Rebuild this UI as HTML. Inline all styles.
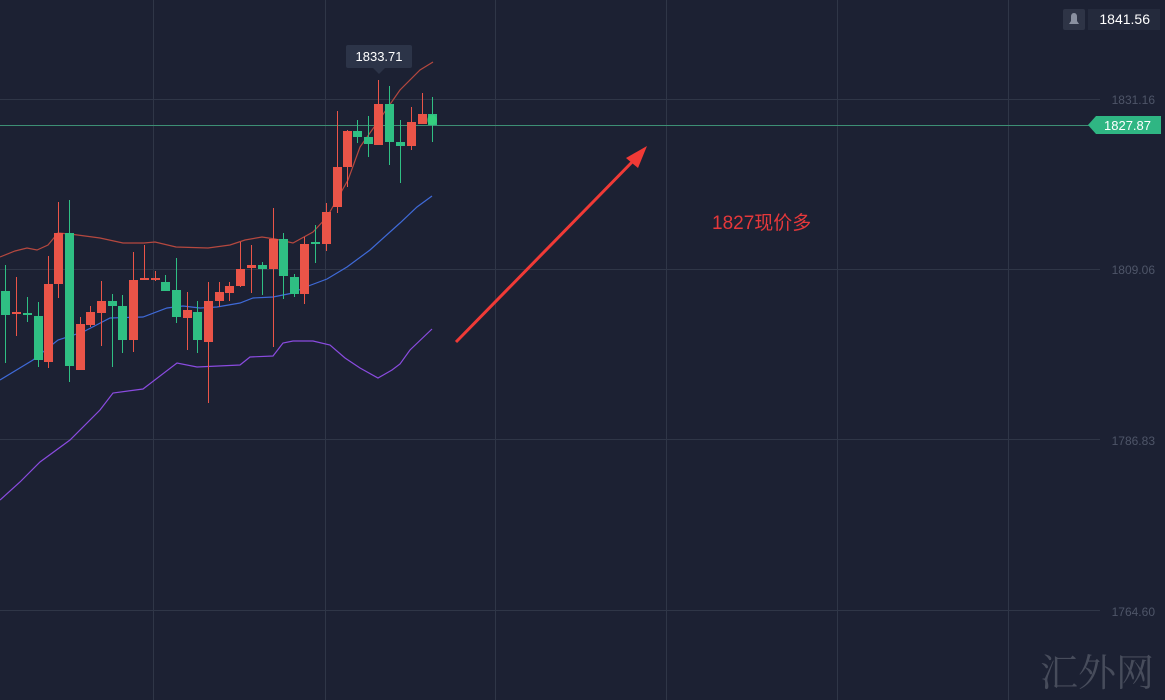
<!DOCTYPE html>
<html><head><meta charset="utf-8"><style>
html,body{margin:0;padding:0;background:#1c2133;}
svg{display:block;}
</style></head><body>
<svg id="s" width="1165" height="700" xmlns="http://www.w3.org/2000/svg">
<rect width="1165" height="700" fill="#1c2133"/>
<g stroke="#2f3647" stroke-width="1">
<line x1="153.5" y1="0" x2="153.5" y2="700"/>
<line x1="325.5" y1="0" x2="325.5" y2="700"/>
<line x1="495.5" y1="0" x2="495.5" y2="700"/>
<line x1="666.5" y1="0" x2="666.5" y2="700"/>
<line x1="837.5" y1="0" x2="837.5" y2="700"/>
<line x1="1008.5" y1="0" x2="1008.5" y2="700"/>
<line x1="0" y1="99.5" x2="1100" y2="99.5"/>
<line x1="0" y1="269.5" x2="1100" y2="269.5"/>
<line x1="0" y1="439.5" x2="1100" y2="439.5"/>
<line x1="0" y1="610.5" x2="1100" y2="610.5"/>
</g>
<g font-family="Liberation Sans, sans-serif" font-size="12" fill="#4e5568" text-anchor="end">
<text x="1155" y="104">1831.16</text>
<text x="1155" y="274">1809.06</text>
<text x="1155" y="445">1786.83</text>
<text x="1155" y="616">1764.60</text>
</g>
<line x1="0" y1="125.5" x2="1090" y2="125.5" stroke="#3d8f74" stroke-width="1"/>
<path d="M1088,125 L1096,116 L1161,116 L1161,134 L1096,134 Z" fill="#2fb683"/>
<text x="1151" y="130" font-family="Liberation Sans, sans-serif" font-size="13" fill="#fff" text-anchor="end">1827.87</text>
<rect x="1063" y="9" width="22" height="21" rx="2" fill="#2e3446"/>
<path d="M1069,24 L1079,24 L1077,21 L1077,17 Q1077,13 1074,13 Q1071,13 1071,17 L1071,21 Z" fill="#8a90a0"/>
<rect x="1088" y="9" width="72" height="21" fill="#242a3c"/>
<text x="1150" y="24" font-family="Liberation Sans, sans-serif" font-size="14" fill="#fff" text-anchor="end">1841.56</text>
<rect x="346" y="45" width="66" height="23" rx="2" fill="#2c3448"/>
<path d="M373,68 L379,74 L385,68 Z" fill="#2c3448"/>
<text x="379" y="61" font-family="Liberation Sans, sans-serif" font-size="13" fill="#fff" text-anchor="middle">1833.71</text>
<polyline fill="none" stroke="#b5483f" stroke-width="1.2" points="0,257 15,251 27,248 37,250 48,245 58,233 70,234 100,238 123,243 144,243 155,242 176,247 208,248 230,245 245,240 262,237 275,239 293,243 313,232 327,217 348,180 360,147 377,123 400,90 420,70 433,62"/>
<polyline fill="none" stroke="#3f6ad8" stroke-width="1.2" points="0,380 33,360 58,340 83,332 110,318 143,317 167,308 183,306 200,308 217,307 240,303 253,298 273,297 293,293 303,288 327,279 347,267 370,250 400,223 417,207 432,196"/>
<polyline fill="none" stroke="#8a4be0" stroke-width="1.2" points="0,500 20,482 40,462 70,440 100,410 113,393 143,389 177,363 197,367 240,365 250,357 273,356 283,343 293,341 313,341 330,345 345,358 360,368 378,378 392,370 400,364 410,350 432,329"/>
<g id="c"></g>
<circle cx="432" cy="120" r="5" fill="#3ce07a" opacity="0.5"/>
<line x1="456" y1="342" x2="637" y2="157" stroke="#f03a36" stroke-width="3"/>
<path d="M647,146 L626,158 L638,168 Z" fill="#f03a36"/>
<text x="712" y="229" font-family="Liberation Sans, 'Noto Sans CJK SC', sans-serif" font-size="19" fill="#e5383b">1827现价多</text>
<text x="1040" y="686" font-family="'Noto Serif CJK SC', serif" font-size="38" fill="#5a5f6d" opacity="0.7">汇外网</text>
</svg>
<script>
var R="#ea5448",G="#2fbf83";
var d=[[5,'G',291,315,265,363],[16,'R',312,314,277,336],[27,'G',313,315,297,322],[38,'G',316,360,302,367],[48,'R',284,362,256,368],[58,'R',233,284,202,298],[69,'G',233,366,200,382],[80,'R',324,370,317,370],[90,'R',312,325,306,327],[101,'R',301,313,281,346],[112,'G',301,306,294,367],[122,'G',306,340,295,353],[133,'R',280,340,252,352],[144,'R',278,280,245,280],[155,'R',278,280,271,281],[165,'G',282,291,275,291],[176,'G',290,317,258,323],[187,'R',310,318,292,350],[197,'G',312,340,301,353],[208,'R',301,342,282,403],[219,'R',292,301,282,307],[229,'R',286,293,282,301],[240,'R',269,286,242,287],[251,'R',265,268,245,293],[262,'G',265,269,262,295],[273,'R',239,269,208,347],[283,'G',239,276,233,299],[294,'G',277,294,274,297],[304,'R',244,294,237,304],[315,'G',242,244,225,263],[326,'R',212,244,203,251],[337,'R',167,207,111,213],[347,'R',131,167,130,187],[357,'G',131,137,120,143],[368,'G',137,144,116,157],[378,'R',104,145,80,145],[389,'G',104,142,86,165],[400,'G',142,146,120,183],[411,'R',122,146,107,150],[422,'R',114,124,93,124],[432,'G',114,125,97,142]];
var g=document.getElementById('c'),h='';
d.forEach(function(c){var col=c[1]=='R'?R:G;
h+='<line x1="'+(c[0]+.5)+'" y1="'+c[4]+'" x2="'+(c[0]+.5)+'" y2="'+c[5]+'" stroke="'+col+'" stroke-width="1"/>';
h+='<rect x="'+(c[0]-4)+'" y="'+c[2]+'" width="9" height="'+Math.max(2,c[3]-c[2])+'" fill="'+col+'"/>';});
g.innerHTML=h;
</script>
</body></html>
